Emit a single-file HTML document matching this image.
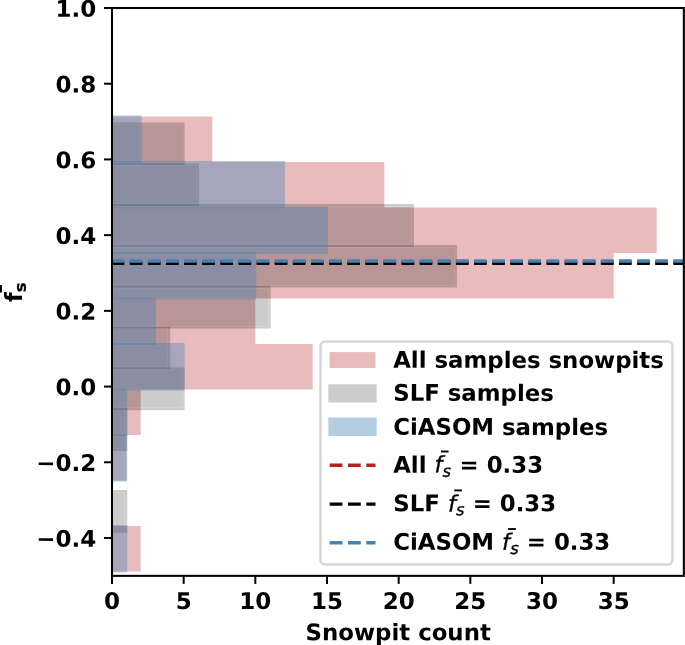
<!DOCTYPE html>
<html lang="en"><head><meta charset="utf-8"><title>Snowpit count histogram</title>
<style>html,body{margin:0;padding:0;background:#fff;}body{width:685px;height:645px;overflow:hidden;}svg{display:block;}text{font-family:"DejaVu Sans", "Liberation Sans", sans-serif;font-weight:bold;fill:#000;}.it{font-style:italic;font-weight:normal;}</style></head><body>
<svg width="685" height="645" viewBox="0 0 685 645">
<rect x="0" y="0" width="685" height="645" fill="#ffffff"/>
<defs><clipPath id="ax"><rect x="112.00" y="8.00" width="571.85" height="567.85"/></clipPath></defs>
<g clip-path="url(#ax)">
<rect x="112.00" y="116.50" width="100.33" height="45.50" fill="#b22222" fill-opacity="0.3"/>
<rect x="112.00" y="162.00" width="272.33" height="45.50" fill="#b22222" fill-opacity="0.3"/>
<rect x="112.00" y="207.50" width="544.67" height="45.50" fill="#b22222" fill-opacity="0.3"/>
<rect x="112.00" y="253.00" width="501.67" height="45.50" fill="#b22222" fill-opacity="0.3"/>
<rect x="112.00" y="298.50" width="143.33" height="45.50" fill="#b22222" fill-opacity="0.3"/>
<rect x="112.00" y="344.00" width="200.67" height="45.50" fill="#b22222" fill-opacity="0.3"/>
<rect x="112.00" y="389.50" width="28.67" height="45.50" fill="#b22222" fill-opacity="0.3"/>
<rect x="112.00" y="435.00" width="14.33" height="45.50" fill="#b22222" fill-opacity="0.3"/>
<rect x="112.00" y="526.00" width="28.67" height="45.50" fill="#b22222" fill-opacity="0.3"/>
</g>
<g clip-path="url(#ax)">
<path fill-rule="evenodd" fill="#000000" fill-opacity="0.2" d="M111.08 122.38H184.59V165.07H111.08ZM113.00 124.00H183.00V163.00H113.00Z"/>
<path fill-rule="evenodd" fill="#000000" fill-opacity="0.165" d="M113.00 124.00H183.00V163.00H113.00ZM114.00 125.00H182.00V162.00H114.00Z"/>
<path fill="#000000" fill-opacity="0.2" d="M114.00 125.00H182.00V162.00H114.00Z"/>
<path fill-rule="evenodd" fill="#000000" fill-opacity="0.2" d="M111.08 163.23H198.92V205.92H111.08ZM113.00 165.00H197.00V204.00H113.00Z"/>
<path fill-rule="evenodd" fill="#000000" fill-opacity="0.165" d="M113.00 165.00H197.00V204.00H113.00ZM114.00 166.00H196.00V203.00H114.00Z"/>
<path fill="#000000" fill-opacity="0.2" d="M114.00 166.00H196.00V203.00H114.00Z"/>
<path fill-rule="evenodd" fill="#000000" fill-opacity="0.2" d="M111.08 204.08H413.92V246.77H111.08ZM113.00 206.00H412.00V245.00H113.00Z"/>
<path fill-rule="evenodd" fill="#000000" fill-opacity="0.165" d="M113.00 206.00H412.00V245.00H113.00ZM114.00 207.00H411.00V244.00H114.00Z"/>
<path fill="#000000" fill-opacity="0.2" d="M114.00 207.00H411.00V244.00H114.00Z"/>
<path fill-rule="evenodd" fill="#000000" fill-opacity="0.2" d="M111.08 244.93H456.92V287.62H111.08ZM113.00 247.00H455.00V286.00H113.00Z"/>
<path fill-rule="evenodd" fill="#000000" fill-opacity="0.165" d="M113.00 247.00H455.00V286.00H113.00ZM114.00 248.00H454.00V285.00H114.00Z"/>
<path fill="#000000" fill-opacity="0.2" d="M114.00 248.00H454.00V285.00H114.00Z"/>
<path fill-rule="evenodd" fill="#000000" fill-opacity="0.2" d="M111.08 285.78H270.59V328.47H111.08ZM113.00 288.00H269.00V327.00H113.00Z"/>
<path fill-rule="evenodd" fill="#000000" fill-opacity="0.165" d="M113.00 288.00H269.00V327.00H113.00ZM114.00 289.00H268.00V326.00H114.00Z"/>
<path fill="#000000" fill-opacity="0.2" d="M114.00 289.00H268.00V326.00H114.00Z"/>
<path fill-rule="evenodd" fill="#000000" fill-opacity="0.2" d="M111.08 326.63H170.25V369.32H111.08ZM113.00 328.00H168.00V367.00H113.00Z"/>
<path fill-rule="evenodd" fill="#000000" fill-opacity="0.165" d="M113.00 328.00H168.00V367.00H113.00ZM114.00 329.00H167.00V366.00H114.00Z"/>
<path fill="#000000" fill-opacity="0.2" d="M114.00 329.00H167.00V366.00H114.00Z"/>
<path fill-rule="evenodd" fill="#000000" fill-opacity="0.2" d="M111.08 367.48H184.59V410.17H111.08ZM113.00 369.00H183.00V408.00H113.00Z"/>
<path fill-rule="evenodd" fill="#000000" fill-opacity="0.165" d="M113.00 369.00H183.00V408.00H113.00ZM114.00 370.00H182.00V407.00H114.00Z"/>
<path fill="#000000" fill-opacity="0.2" d="M114.00 370.00H182.00V407.00H114.00Z"/>
<path fill-rule="evenodd" fill="#000000" fill-opacity="0.2" d="M111.08 408.33H127.25V451.02H111.08ZM113.00 410.00H125.00V449.00H113.00Z"/>
<path fill-rule="evenodd" fill="#000000" fill-opacity="0.165" d="M113.00 410.00H125.00V449.00H113.00ZM114.00 411.00H124.00V448.00H114.00Z"/>
<path fill="#000000" fill-opacity="0.2" d="M114.00 411.00H124.00V448.00H114.00Z"/>
<path fill-rule="evenodd" fill="#000000" fill-opacity="0.2" d="M111.08 490.03H127.25V532.72H111.08ZM113.00 492.00H125.00V531.00H113.00Z"/>
<path fill-rule="evenodd" fill="#000000" fill-opacity="0.165" d="M113.00 492.00H125.00V531.00H113.00ZM114.00 493.00H124.00V530.00H114.00Z"/>
<path fill="#000000" fill-opacity="0.2" d="M114.00 493.00H124.00V530.00H114.00Z"/>
</g>
<g clip-path="url(#ax)">
<path fill-rule="evenodd" fill="#4682b4" fill-opacity="0.4" d="M111.08 115.58H141.59V162.92H111.08ZM113.00 117.00H140.00V161.00H113.00Z"/>
<path fill-rule="evenodd" fill="#4682b4" fill-opacity="0.36" d="M113.00 117.00H140.00V161.00H113.00ZM114.00 118.00H139.00V160.00H114.00Z"/>
<path fill="#4682b4" fill-opacity="0.4" d="M114.00 118.00H139.00V160.00H114.00Z"/>
<path fill-rule="evenodd" fill="#4682b4" fill-opacity="0.4" d="M111.08 161.08H284.92V208.42H111.08ZM113.00 163.00H283.00V207.00H113.00Z"/>
<path fill-rule="evenodd" fill="#4682b4" fill-opacity="0.36" d="M113.00 163.00H283.00V207.00H113.00ZM114.00 164.00H282.00V206.00H114.00Z"/>
<path fill="#4682b4" fill-opacity="0.4" d="M114.00 164.00H282.00V206.00H114.00Z"/>
<path fill-rule="evenodd" fill="#4682b4" fill-opacity="0.4" d="M111.08 206.58H327.92V253.92H111.08ZM113.00 208.00H326.00V252.00H113.00Z"/>
<path fill-rule="evenodd" fill="#4682b4" fill-opacity="0.36" d="M113.00 208.00H326.00V252.00H113.00ZM114.00 209.00H325.00V251.00H114.00Z"/>
<path fill="#4682b4" fill-opacity="0.4" d="M114.00 209.00H325.00V251.00H114.00Z"/>
<path fill-rule="evenodd" fill="#4682b4" fill-opacity="0.4" d="M111.08 252.08H256.25V299.42H111.08ZM113.00 254.00H254.00V298.00H113.00Z"/>
<path fill-rule="evenodd" fill="#4682b4" fill-opacity="0.36" d="M113.00 254.00H254.00V298.00H113.00ZM114.00 255.00H253.00V297.00H114.00Z"/>
<path fill="#4682b4" fill-opacity="0.4" d="M114.00 255.00H253.00V297.00H114.00Z"/>
<path fill-rule="evenodd" fill="#4682b4" fill-opacity="0.4" d="M111.08 297.58H155.92V344.92H111.08ZM113.00 299.00H154.00V343.00H113.00Z"/>
<path fill-rule="evenodd" fill="#4682b4" fill-opacity="0.36" d="M113.00 299.00H154.00V343.00H113.00ZM114.00 300.00H153.00V342.00H114.00Z"/>
<path fill="#4682b4" fill-opacity="0.4" d="M114.00 300.00H153.00V342.00H114.00Z"/>
<path fill-rule="evenodd" fill="#4682b4" fill-opacity="0.4" d="M111.08 343.08H184.59V390.42H111.08ZM113.00 345.00H183.00V389.00H113.00Z"/>
<path fill-rule="evenodd" fill="#4682b4" fill-opacity="0.36" d="M113.00 345.00H183.00V389.00H113.00ZM114.00 346.00H182.00V388.00H114.00Z"/>
<path fill="#4682b4" fill-opacity="0.4" d="M114.00 346.00H182.00V388.00H114.00Z"/>
<path fill-rule="evenodd" fill="#4682b4" fill-opacity="0.4" d="M111.08 388.58H127.25V435.92H111.08ZM113.00 390.00H125.00V434.00H113.00Z"/>
<path fill-rule="evenodd" fill="#4682b4" fill-opacity="0.36" d="M113.00 390.00H125.00V434.00H113.00ZM114.00 391.00H124.00V433.00H114.00Z"/>
<path fill="#4682b4" fill-opacity="0.4" d="M114.00 391.00H124.00V433.00H114.00Z"/>
<path fill-rule="evenodd" fill="#4682b4" fill-opacity="0.4" d="M111.08 434.08H127.25V481.42H111.08ZM113.00 436.00H125.00V480.00H113.00Z"/>
<path fill-rule="evenodd" fill="#4682b4" fill-opacity="0.36" d="M113.00 436.00H125.00V480.00H113.00ZM114.00 437.00H124.00V479.00H114.00Z"/>
<path fill="#4682b4" fill-opacity="0.4" d="M114.00 437.00H124.00V479.00H114.00Z"/>
<path fill-rule="evenodd" fill="#4682b4" fill-opacity="0.4" d="M111.08 525.08H127.25V572.42H111.08ZM113.00 527.00H125.00V571.00H113.00Z"/>
<path fill-rule="evenodd" fill="#4682b4" fill-opacity="0.36" d="M113.00 527.00H125.00V571.00H113.00ZM114.00 528.00H124.00V570.00H114.00Z"/>
<path fill="#4682b4" fill-opacity="0.4" d="M114.00 528.00H124.00V570.00H114.00Z"/>
</g>
<line x1="111.65" y1="262.00" x2="683.85" y2="262.00" stroke="#b22222" stroke-width="3.42" stroke-dasharray="12.65 5.47"/>
<line x1="111.65" y1="263.25" x2="683.85" y2="263.25" stroke="#000000" stroke-width="3.42" stroke-dasharray="12.65 5.47"/>
<line x1="111.65" y1="260.95" x2="683.85" y2="260.95" stroke="#4682b4" stroke-width="3.42" stroke-dasharray="12.65 5.47"/>
<rect x="112.00" y="8.00" width="571.85" height="567.85" fill="none" stroke="#000" stroke-width="2.05"/>
<line x1="103.95" y1="8.00" x2="112.00" y2="8.00" stroke="#000" stroke-width="2"/>
<text x="96.30" y="16.80" transform="rotate(0.05 96.30 16.80)" font-size="23.0" text-anchor="end">1.0</text>
<line x1="103.95" y1="83.71" x2="112.00" y2="83.71" stroke="#000" stroke-width="2"/>
<text x="96.30" y="92.51" transform="rotate(0.05 96.30 92.51)" font-size="23.0" text-anchor="end">0.8</text>
<line x1="103.95" y1="159.43" x2="112.00" y2="159.43" stroke="#000" stroke-width="2"/>
<text x="96.30" y="168.23" transform="rotate(0.05 96.30 168.23)" font-size="23.0" text-anchor="end">0.6</text>
<line x1="103.95" y1="235.14" x2="112.00" y2="235.14" stroke="#000" stroke-width="2"/>
<text x="96.30" y="243.94" transform="rotate(0.05 96.30 243.94)" font-size="23.0" text-anchor="end">0.4</text>
<line x1="103.95" y1="310.85" x2="112.00" y2="310.85" stroke="#000" stroke-width="2"/>
<text x="96.30" y="319.65" transform="rotate(0.05 96.30 319.65)" font-size="23.0" text-anchor="end">0.2</text>
<line x1="103.95" y1="386.57" x2="112.00" y2="386.57" stroke="#000" stroke-width="2"/>
<text x="96.30" y="395.37" transform="rotate(0.05 96.30 395.37)" font-size="23.0" text-anchor="end">0.0</text>
<line x1="103.95" y1="462.28" x2="112.00" y2="462.28" stroke="#000" stroke-width="2"/>
<text x="96.30" y="471.08" transform="rotate(0.05 96.30 471.08)" font-size="23.0" text-anchor="end">−0.2</text>
<line x1="103.95" y1="537.99" x2="112.00" y2="537.99" stroke="#000" stroke-width="2"/>
<text x="96.30" y="546.79" transform="rotate(0.05 96.30 546.79)" font-size="23.0" text-anchor="end">−0.4</text>
<line x1="112.00" y1="575.85" x2="112.00" y2="583.90" stroke="#000" stroke-width="2"/>
<text x="112.00" y="609.10" transform="rotate(0.05 112.00 609.10)" font-size="23.0" text-anchor="middle">0</text>
<line x1="183.67" y1="575.85" x2="183.67" y2="583.90" stroke="#000" stroke-width="2"/>
<text x="183.67" y="609.10" transform="rotate(0.05 183.67 609.10)" font-size="23.0" text-anchor="middle">5</text>
<line x1="255.33" y1="575.85" x2="255.33" y2="583.90" stroke="#000" stroke-width="2"/>
<text x="255.33" y="609.10" transform="rotate(0.05 255.33 609.10)" font-size="23.0" text-anchor="middle">10</text>
<line x1="327.00" y1="575.85" x2="327.00" y2="583.90" stroke="#000" stroke-width="2"/>
<text x="327.00" y="609.10" transform="rotate(0.05 327.00 609.10)" font-size="23.0" text-anchor="middle">15</text>
<line x1="398.67" y1="575.85" x2="398.67" y2="583.90" stroke="#000" stroke-width="2"/>
<text x="398.67" y="609.10" transform="rotate(0.05 398.67 609.10)" font-size="23.0" text-anchor="middle">20</text>
<line x1="470.33" y1="575.85" x2="470.33" y2="583.90" stroke="#000" stroke-width="2"/>
<text x="470.33" y="609.10" transform="rotate(0.05 470.33 609.10)" font-size="23.0" text-anchor="middle">25</text>
<line x1="542.00" y1="575.85" x2="542.00" y2="583.90" stroke="#000" stroke-width="2"/>
<text x="542.00" y="609.10" transform="rotate(0.05 542.00 609.10)" font-size="23.0" text-anchor="middle">30</text>
<line x1="613.67" y1="575.85" x2="613.67" y2="583.90" stroke="#000" stroke-width="2"/>
<text x="613.67" y="609.10" transform="rotate(0.05 613.67 609.10)" font-size="23.0" text-anchor="middle">35</text>
<text x="398.20" y="640.25" transform="rotate(0.05 398.20 640.25)" font-size="22.85" text-anchor="middle">Snowpit count</text>
<g transform="translate(22.3,301.8) rotate(-90)">
<text x="-0.2" y="-0.1" font-size="22.4">f</text>
<text x="9.5" y="3.9" font-size="16.6" stroke="#000" stroke-width="0.25">s</text>
<rect x="9.3" y="-24" width="7.5" height="3.7" fill="#000"/>
</g>
<rect x="320.5" y="341.5" width="351.9" height="223.0" rx="4.6" ry="4.6" fill="#ffffff" fill-opacity="0.8" stroke="#cccccc" stroke-opacity="0.8" stroke-width="2.5"/>
<rect x="329.50" y="352.1" width="46.00" height="15.9" fill="#b22222" fill-opacity="0.3"/>
<path fill-rule="evenodd" fill="#000000" fill-opacity="0.2" d="M328.35 384.15H376.65V402.45H328.35ZM331.00 386.00H374.00V400.00H331.00Z"/>
<path fill-rule="evenodd" fill="#000000" fill-opacity="0.19" d="M331.00 386.00H374.00V400.00H331.00ZM332.00 387.00H373.00V399.00H332.00Z"/>
<path fill="#000000" fill-opacity="0.2" d="M332.00 387.00H373.00V399.00H332.00Z"/>
<path fill-rule="evenodd" fill="#4682b4" fill-opacity="0.4" d="M328.35 417.50H376.65V436.05H328.35ZM331.00 420.00H374.00V434.00H331.00Z"/>
<path fill-rule="evenodd" fill="#4682b4" fill-opacity="0.385" d="M331.00 420.00H374.00V434.00H331.00ZM332.00 421.00H373.00V433.00H332.00Z"/>
<path fill="#4682b4" fill-opacity="0.4" d="M332.00 421.00H373.00V433.00H332.00Z"/>
<text x="393.20" y="367.80" transform="rotate(0.05 393.20 367.80)" font-size="22.85">All samples snowpits</text>
<text x="393.20" y="400.80" transform="rotate(0.05 393.20 400.80)" font-size="22.85">SLF samples</text>
<text x="393.20" y="434.80" transform="rotate(0.05 393.20 434.80)" font-size="22.85">CiASOM samples</text>
<line x1="329.70" y1="465.20" x2="375.50" y2="465.20" stroke="#b22222" stroke-width="3.42" stroke-dasharray="12.75 5.55"/>
<text x="393.20" y="472.80" transform="rotate(0.05 393.20 472.80)" font-size="22.85">All</text>
<text x="434.50" y="472.20" transform="rotate(0.05 434.50 472.20)" font-size="22.5" class="it" stroke="#000" stroke-width="0.35">f</text>
<text x="442.50" y="476.80" transform="rotate(0.05 442.50 476.80)" font-size="16.3" class="it" stroke="#000" stroke-width="0.3">s</text>
<rect x="440.90" y="450.55" width="7.7" height="1.9" fill="#000"/>
<text x="459.60" y="472.80" transform="rotate(0.05 459.60 472.80)" font-size="22.85">= 0.33</text>
<line x1="329.70" y1="504.10" x2="375.50" y2="504.10" stroke="#000000" stroke-width="3.42" stroke-dasharray="12.75 5.55"/>
<text x="393.20" y="511.30" transform="rotate(0.05 393.20 511.30)" font-size="22.85">SLF</text>
<text x="447.90" y="511.50" transform="rotate(0.05 447.90 511.50)" font-size="22.5" class="it" stroke="#000" stroke-width="0.35">f</text>
<text x="455.90" y="515.20" transform="rotate(0.05 455.90 515.20)" font-size="16.3" class="it" stroke="#000" stroke-width="0.3">s</text>
<rect x="454.30" y="489.45" width="7.7" height="1.9" fill="#000"/>
<text x="472.70" y="511.30" transform="rotate(0.05 472.70 511.30)" font-size="22.85">= 0.33</text>
<line x1="329.70" y1="542.70" x2="375.50" y2="542.70" stroke="#4682b4" stroke-width="3.42" stroke-dasharray="12.75 5.55"/>
<text x="393.20" y="549.80" transform="rotate(0.05 393.20 549.80)" font-size="22.85">CiASOM</text>
<text x="502.05" y="549.80" transform="rotate(0.05 502.05 549.80)" font-size="22.5" class="it" stroke="#000" stroke-width="0.35">f</text>
<text x="510.15" y="554.00" transform="rotate(0.05 510.15 554.00)" font-size="16.3" class="it" stroke="#000" stroke-width="0.3">s</text>
<rect x="508.15" y="528.10" width="7.7" height="1.9" fill="#000"/>
<text x="526.80" y="549.80" transform="rotate(0.05 526.80 549.80)" font-size="22.85">= 0.33</text>
</svg></body></html>
